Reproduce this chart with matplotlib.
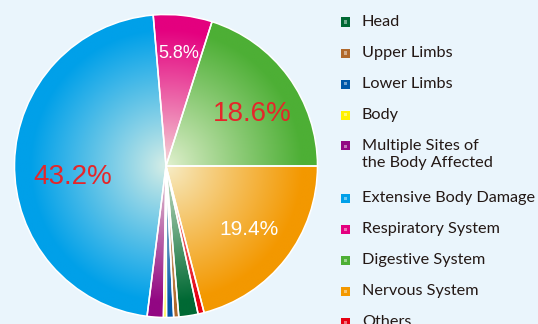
import numpy as np
import matplotlib
matplotlib.use("Agg")
import matplotlib.pyplot as plt
from matplotlib.colors import to_rgb

# slices in drawing order (counter-clockwise from 3 o'clock)
slice_names = ["Digestive System", "Respiratory System", "Extensive Body Damage",
               "Multiple Sites of\nthe Body Affected", "Body", "Lower Limbs",
               "Upper Limbs", "Head", "Others", "Nervous System"]
slice_values = [18.6, 5.8, 43.2, 1.6, 0.3, 0.7, 0.5, 1.9, 0.6, 19.4]

legend_names = ["Head", "Upper Limbs", "Lower Limbs", "Body",
                "Multiple Sites of\nthe Body Affected", "Extensive Body Damage",
                "Respiratory System", "Digestive System", "Nervous System", "Others"]

colors = {
    "Head": "#006934",
    "Upper Limbs": "#b0692c",
    "Lower Limbs": "#0058a8",
    "Body": "#fff100",
    "Multiple Sites of\nthe Body Affected": "#920783",
    "Extensive Body Damage": "#00a0e9",
    "Respiratory System": "#e4007f",
    "Digestive System": "#4daf35",
    "Nervous System": "#f39800",
    "Others": "#e60012",
}

# value labels: (slice, text, colour, size, radius, angle shift)
value_labels = [
    ("Extensive Body Damage", "43.2%", "#e5262a", 20, 0.62, 8),
    ("Digestive System", "18.6%", "#e5262a", 20, 0.665, -5),
    ("Respiratory System", "5.8%", "white", 13, 0.75, 0),
    ("Nervous System", "19.4%", "white", 15, 0.69, 0),
]

bg = "#eaf5fc"
W, H = 538, 324
fig = plt.figure(figsize=(W / 100, H / 100), dpi=100, facecolor=bg)
ax = fig.add_axes([13 / W, 5 / H, 306 / W, 306 / H])
ax.set_facecolor(bg)

wedges, _ = ax.pie(slice_values, startangle=0, counterclock=True, radius=1,
                   colors=[colors[n] for n in slice_names],
                   wedgeprops=dict(edgecolor="white", linewidth=1.1))
ax.set_xlim(-1.01, 1.01)
ax.set_ylim(-1.01, 1.01)
ax.set_aspect("equal")
ax.axis("off")

# radial shading: pale near the centre, full colour towards the rim
n = 500
gx, gy = np.meshgrid(np.linspace(-1, 1, n), np.linspace(-1, 1, n))
rr = np.sqrt(gx ** 2 + gy ** 2)
t = np.clip(rr / 0.9, 0, 1) ** 0.9
t = 0.12 + 0.88 * t
for w, name in zip(wedges, slice_names):
    c = np.array(to_rgb(colors[name]))
    pale = np.array([0.97, 0.98, 0.9])
    img = pale[None, None, :] * (1 - t[..., None]) + c[None, None, :] * t[..., None]
    im = ax.imshow(img, extent=(-1, 1, -1, 1), origin="lower", zorder=1.5,
                   interpolation="bilinear")
    im.set_clip_path(w)
    w.set_facecolor("none")
    w.set_zorder(2)

for name, txt, col, size, r, shift in value_labels:
    w = wedges[slice_names.index(name)]
    ang = np.deg2rad((w.theta1 + w.theta2) / 2 + shift)
    ax.text(r * np.cos(ang), r * np.sin(ang), txt, color=col, fontsize=size,
            family="Liberation Sans", ha="center", va="center", zorder=3)

# legend column
y = 22
for name in legend_names:
    c = colors[name]
    fig.patches.append(plt.Rectangle(((345 - 4.5) / W, 1 - (y + 4.5) / H), 9 / W, 9 / H,
                                     transform=fig.transFigure, facecolor=c,
                                     edgecolor="none"))
    fig.patches.append(plt.Rectangle(((345 - 1.5) / W, 1 - (y + 1.5) / H), 3 / W, 3 / H,
                                     transform=fig.transFigure, facecolor="white",
                                     alpha=0.45, edgecolor="none"))
    fig.text(362 / W, 1 - (y - 7) / H, name, fontsize=11.7, family="Lato",
             color="#231815", ha="left", va="top", linespacing=1.3)
    y += 31 + 21 * name.count("\n")

fig.savefig("out.png", dpi=100, facecolor=bg)
